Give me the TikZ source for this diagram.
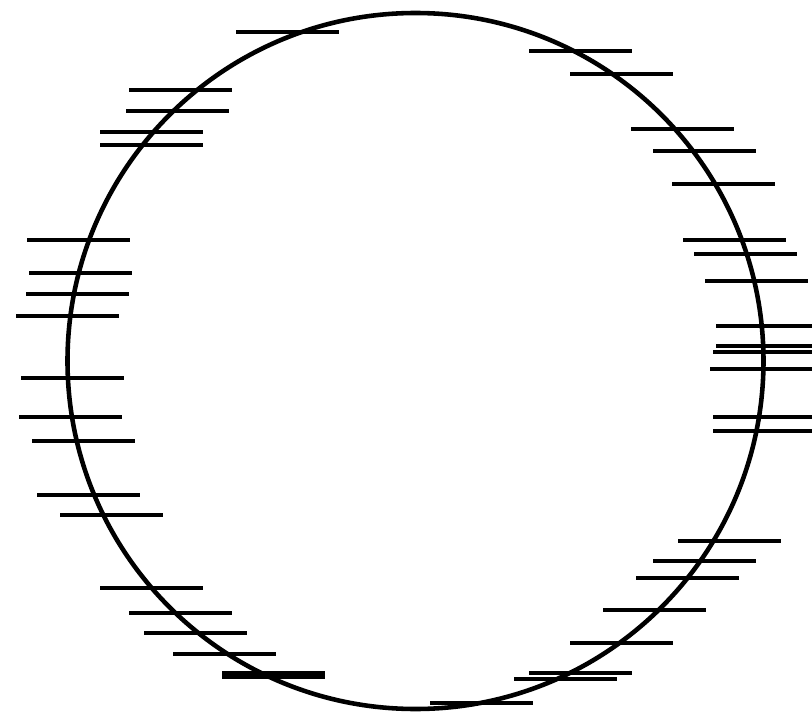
\documentclass[tikz,border=0pt]{standalone}
\usetikzlibrary{calc}

\begin{document}
\begin{tikzpicture}[
  x=0.02cm, y=-0.02cm,
  ring/.style={draw=black, line width=2.6pt},
  tick/.style={draw=black, line width=2.3pt},
]

% ---------- frame ----------
\useasboundingbox (0,0) rectangle (812,713);
\clip (0,0) rectangle (812,713);

% ---------- circle ----------
\coordinate (ctr) at (415.5,361);
\draw[ring] (ctr) circle[radius=348*0.02cm];

% ---------- ticks (left end, height) ----------
\foreach \tx/\ty in {236/32, 129/90, 126/111, 100/132, 100/145,
                     529/51, 570/74, 631/129, 653/151, 672/184,
                     27/240, 29/273, 26/294, 16/316, 21/378, 19/417, 32/441,
                     683/240, 694/254, 705/281, 716/326, 716/346, 713/352,
                     710/369, 713/417, 713/431,
                     37/495, 60/515, 100/588, 129/613, 144/633, 173/654,
                     222/673, 222/677,
                     678/541, 653/561, 636/578, 603/610, 570/643, 529/673,
                     514/679, 430/703}
  \draw[tick] (\tx,\ty) -- ++(102.5,0);

\end{tikzpicture}
\end{document}
